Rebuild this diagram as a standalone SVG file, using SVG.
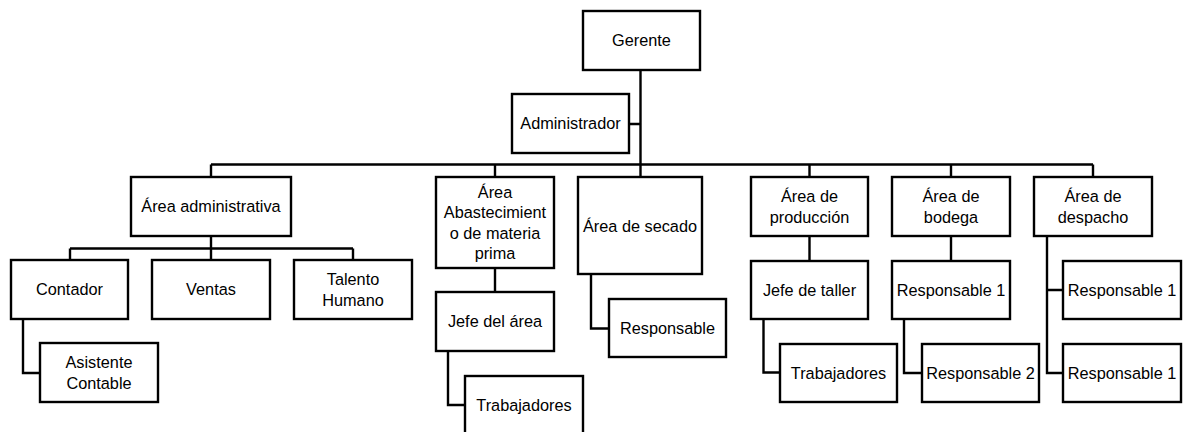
<svg xmlns="http://www.w3.org/2000/svg" width="1186" height="432" viewBox="0 0 1186 432">
<style>
.b{fill:#fff;stroke:#000;stroke-width:2.4}
.t{font-family:"Liberation Sans",Arial,sans-serif;font-size:16.3px;fill:#000;text-anchor:middle}
.c{fill:none;stroke:#000;stroke-width:2.4}
</style>
<rect width="1186" height="432" fill="#fff"/>
<g id="connectors" class="c">
<path d="M640.5 70V164.5M629 124H640.5M211 164.5H1093M211 164.5V177M495 164.5V177M640.5 164.5V177M809.5 164.5V177M951 164.5V177M1093 164.5V177"/>
<path d="M211 236V248.5M70 248.5H353M70 248.5V260M211 248.5V260M353 248.5V260M23 319V373H40"/>
<path d="M495 268V292M448 351V405H465M591 274V328.5H609"/>
<path d="M809.5 236V261M763.5 319V372.5H780M951 236V261M904 319V373H922M1047 236V373H1063M1047 290H1063"/>
</g>
<g id="gerente"><rect class="b" x="583" y="11" width="117" height="59"/><text class="t" x="641.5" y="46">Gerente</text></g>
<g id="administrador"><rect class="b" x="512" y="94" width="117" height="59"/><text class="t" x="570.5" y="129">Administrador</text></g>
<g id="area-administrativa"><rect class="b" x="131" y="177" width="160" height="59"/><text class="t" x="211" y="212">Área administrativa</text></g>
<g id="area-abastecimiento"><rect class="b" x="436" y="177" width="118" height="91"/><text class="t" x="495" y="197.5">Área</text><text class="t" x="495" y="218">Abastecimient</text><text class="t" x="495" y="238.5">o de materia</text><text class="t" x="495" y="259">prima</text></g>
<g id="area-secado"><rect class="b" x="578" y="177" width="124" height="97"/><text class="t" x="640" y="231.5">Área de secado</text></g>
<g id="area-produccion"><rect class="b" x="751" y="177" width="117" height="59"/><text class="t" x="809.5" y="202">Área de</text><text class="t" x="809.5" y="222.5">producción</text></g>
<g id="area-bodega"><rect class="b" x="892" y="177" width="118" height="59"/><text class="t" x="951" y="202">Área de</text><text class="t" x="951" y="222.5">bodega</text></g>
<g id="area-despacho"><rect class="b" x="1034" y="177" width="118" height="59"/><text class="t" x="1093" y="202">Área de</text><text class="t" x="1093" y="222.5">despacho</text></g>
<g id="contador"><rect class="b" x="11" y="260" width="117" height="59"/><text class="t" x="69.5" y="295">Contador</text></g>
<g id="ventas"><rect class="b" x="152" y="260" width="118" height="59"/><text class="t" x="211" y="295">Ventas</text></g>
<g id="talento-humano"><rect class="b" x="294" y="260" width="118" height="59"/><text class="t" x="353" y="285">Talento</text><text class="t" x="353" y="305.5">Humano</text></g>
<g id="asistente-contable"><rect class="b" x="40" y="343" width="118" height="59"/><text class="t" x="99" y="368">Asistente</text><text class="t" x="99" y="388.5">Contable</text></g>
<g id="jefe-area"><rect class="b" x="436" y="292" width="118" height="59"/><text class="t" x="495" y="327">Jefe del área</text></g>
<g id="trabajadores-abast"><rect class="b" x="465" y="376" width="118" height="59"/><text class="t" x="524" y="411">Trabajadores</text></g>
<g id="responsable-secado"><rect class="b" x="609" y="299" width="117" height="58"/><text class="t" x="667.5" y="334">Responsable</text></g>
<g id="jefe-taller"><rect class="b" x="751" y="261" width="117" height="58"/><text class="t" x="809.5" y="296">Jefe de taller</text></g>
<g id="trabajadores-prod"><rect class="b" x="780" y="344" width="117" height="58"/><text class="t" x="838.5" y="379">Trabajadores</text></g>
<g id="responsable1-bodega"><rect class="b" x="892" y="261" width="118" height="58"/><text class="t" x="951" y="296">Responsable 1</text></g>
<g id="responsable2-bodega"><rect class="b" x="922" y="344" width="117" height="58"/><text class="t" x="980.5" y="379">Responsable 2</text></g>
<g id="responsable1-despacho"><rect class="b" x="1063" y="261" width="118" height="58"/><text class="t" x="1122" y="296">Responsable 1</text></g>
<g id="responsable1b-despacho"><rect class="b" x="1063" y="344" width="118" height="58"/><text class="t" x="1122" y="379">Responsable 1</text></g>
</svg>
